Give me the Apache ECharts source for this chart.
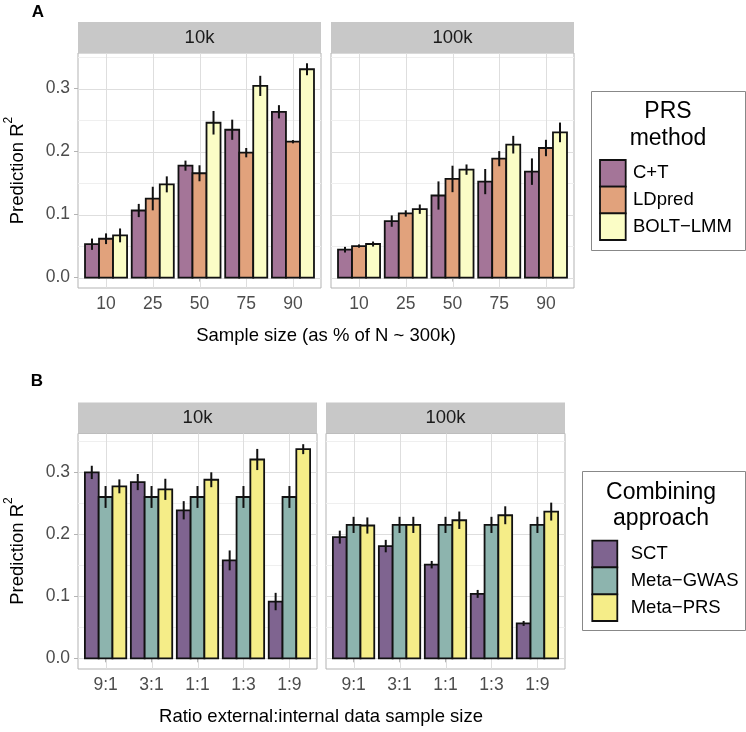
<!DOCTYPE html>
<html><head><meta charset="utf-8">
<script src="https://cdn.jsdelivr.net/npm/echarts@6/dist/echarts.min.js"></script>
<style>html,body{margin:0;padding:0;background:#fff}#c{width:746px;height:732px}</style>
</head><body><div id="c"></div>
<script>
const FONT = '"Liberation Sans", Arial, Helvetica, sans-serif';

// ---------- categories / labels ----------
const sizeCats = ['10', '25', '50', '75', '90'];
const ratioCats = ['9:1', '3:1', '1:1', '1:3', '1:9'];
const facets = ['10k', '100k'];
const methodsA = ['C+T', 'LDpred', 'BOLT−LMM'];
const methodsB = ['SCT', 'Meta−GWAS', 'Meta−PRS'];
const colorsA = ['#a47598', '#e1a27c', '#fbfdc6'];
const colorsB = ['#7f6490', '#8db4ae', '#f5ed88'];
const yMajor = [0, 0.1, 0.2, 0.3];
const yMinor = [0.05, 0.15, 0.25, 0.35];

// ---------- panel A, 10k ----------
const a10k_CT = [0.053, 0.1065, 0.1777, 0.2347, 0.2632];
const a10k_CT_err = [0.009, 0.0105, 0.008, 0.016, 0.0105];
const a10k_LD = [0.0617, 0.1255, 0.1656, 0.1983, 0.2157];
const a10k_LD_err = [0.0085, 0.0187, 0.0127, 0.0074, 0.0026];
const a10k_BOLT = [0.067, 0.148, 0.2458, 0.3043, 0.3307];
const a10k_BOLT_err = [0.011, 0.0127, 0.0187, 0.016, 0.0095];
// ---------- panel A, 100k ----------
const a100k_CT = [0.0443, 0.0897, 0.1303, 0.1524, 0.1682];
const a100k_CT_err = [0.0045, 0.009, 0.0224, 0.02, 0.021];
const a100k_LD = [0.0501, 0.1018, 0.1566, 0.1888, 0.2057];
const a100k_LD_err = [0.0026, 0.005, 0.021, 0.012, 0.013];
const a100k_BOLT = [0.0533, 0.1086, 0.1714, 0.211, 0.2305];
const a100k_BOLT_err = [0.004, 0.0074, 0.0082, 0.014, 0.0156];
// ---------- panel B, 10k ----------
const b10k_SCT = [0.299, 0.2835, 0.2381, 0.1575, 0.0913];
const b10k_SCT_err = [0.0107, 0.013, 0.0147, 0.016, 0.014];
const b10k_GWAS = [0.2595, 0.2595, 0.2595, 0.2595, 0.2595];
const b10k_GWAS_err = [0.0176, 0.0176, 0.0176, 0.0176, 0.0176];
const b10k_PRS = [0.2766, 0.2718, 0.2872, 0.3198, 0.3364];
const b10k_PRS_err = [0.0112, 0.017, 0.012, 0.017, 0.008];
// ---------- panel B, 100k ----------
const b100k_SCT = [0.1949, 0.1805, 0.1506, 0.1036, 0.0561];
const b100k_SCT_err = [0.0104, 0.01, 0.006, 0.0064, 0.004];
const b100k_GWAS = [0.2146, 0.2146, 0.2146, 0.2146, 0.2146];
const b100k_GWAS_err = [0.013, 0.013, 0.013, 0.013, 0.013];
const b100k_PRS = [0.2136, 0.2146, 0.2221, 0.2301, 0.236];
const b100k_PRS_err = [0.013, 0.013, 0.014, 0.0144, 0.0144];

// ---------- layout ----------
const panels = [
  { grid: { left: 78, top: 53, width: 243, height: 235 }, strip: facets[0], cats: sizeCats, colors: colorsA,
    vals: [a10k_CT, a10k_LD, a10k_BOLT], errs: [a10k_CT_err, a10k_LD_err, a10k_BOLT_err], yMin: -0.0165, yMax: 0.3565, showY: true },
  { grid: { left: 331, top: 53, width: 243, height: 235 }, strip: facets[1], cats: sizeCats, colors: colorsA,
    vals: [a100k_CT, a100k_LD, a100k_BOLT], errs: [a100k_CT_err, a100k_LD_err, a100k_BOLT_err], yMin: -0.0165, yMax: 0.3565, showY: false },
  { grid: { left: 78, top: 433.5, width: 239, height: 235.5 }, strip: facets[0], cats: ratioCats, colors: colorsB,
    vals: [b10k_SCT, b10k_GWAS, b10k_PRS], errs: [b10k_SCT_err, b10k_GWAS_err, b10k_PRS_err], yMin: -0.0172, yMax: 0.3616, showY: true },
  { grid: { left: 326, top: 433.5, width: 239, height: 235.5 }, strip: facets[1], cats: ratioCats, colors: colorsB,
    vals: [b100k_SCT, b100k_GWAS, b100k_PRS], errs: [b100k_SCT_err, b100k_GWAS_err, b100k_PRS_err], yMin: -0.0172, yMax: 0.3616, showY: false }
];
const offsets = [-0.3, 0, 0.3];
const halfBar = 0.15;
const stripH = 31;

const grids = [], xAxes = [], yAxes = [], series = [], graphics = [];

panels.forEach((p, gi) => {
  grids.push(Object.assign({ show: true, borderColor: '#b3b3b3', borderWidth: 1, backgroundColor: '#fff', containLabel: false }, p.grid));
  const tickVals = p.cats.map((c, i) => i + 1);
  xAxes.push({
    type: 'value', gridIndex: gi, min: 0.4, max: 5.6,
    axisLine: { show: false }, splitLine: { show: false },
    axisTick: { show: true, customValues: tickVals, length: 4, lineStyle: { color: '#b3b3b3', width: 1 } },
    axisLabel: { show: true, customValues: tickVals, margin: 7, fontSize: 17.5, color: '#4d4d4d', fontFamily: FONT,
      formatter: v => p.cats[Math.round(v) - 1] }
  });
  yAxes.push({
    type: 'value', gridIndex: gi, min: p.yMin, max: p.yMax,
    axisLine: { show: false }, splitLine: { show: false },
    axisTick: { show: p.showY, customValues: yMajor, length: 4, lineStyle: { color: '#b3b3b3', width: 1 } },
    axisLabel: { show: p.showY, customValues: yMajor, margin: 8, fontSize: 17.5, color: '#4d4d4d', fontFamily: FONT,
      formatter: v => v.toFixed(1) }
  });
  // grid lines
  const gl = [];
  yMinor.forEach(v => gl.push([1, v, 1]));
  yMajor.forEach(v => gl.push([1, v, 0]));
  tickVals.forEach(v => gl.push([v, 0, 2]));
  series.push({
    type: 'custom', xAxisIndex: gi, yAxisIndex: gi, z: 1, silent: true, data: gl,
    renderItem: (params, api) => {
      const cs = params.coordSys; const t = api.value(2);
      if (t === 2) {
        const x = Math.round(api.coord([api.value(0), 0])[0]) + 0.5;
        return { type: 'line', shape: { x1: x, y1: cs.y, x2: x, y2: cs.y + cs.height }, style: { stroke: '#dedede', lineWidth: 1 } };
      }
      const y = Math.round(api.coord([1, api.value(1)])[1]) + 0.5;
      if (y < cs.y || y > cs.y + cs.height) return null;
      return { type: 'line', shape: { x1: cs.x, y1: y, x2: cs.x + cs.width, y2: y },
        style: { stroke: t === 0 ? '#dedede' : '#efefef', lineWidth: 1 } };
    }
  });
  // bars
  p.vals.forEach((arr, si) => {
    const off = offsets[si], col = p.colors[si];
    series.push({
      type: 'custom', xAxisIndex: gi, yAxisIndex: gi, z: 2,
      data: arr.map((v, i) => [i + 1, v]),
      renderItem: (params, api) => {
        const xc = api.value(0) + off;
        const p0 = api.coord([xc - halfBar, api.value(1)]);
        const p1 = api.coord([xc + halfBar, 0]);
        return { type: 'rect', shape: { x: p0[0], y: p0[1], width: p1[0] - p0[0], height: p1[1] - p0[1] },
          style: { fill: col, stroke: '#111', lineWidth: 1.8 } };
      }
    });
  });
  // error bars
  p.vals.forEach((arr, si) => {
    const off = offsets[si], errs = p.errs[si];
    series.push({
      type: 'custom', xAxisIndex: gi, yAxisIndex: gi, z: 3,
      data: arr.map((v, i) => [i + 1, v - errs[i], v + errs[i]]),
      renderItem: (params, api) => {
        const xc = api.value(0) + off;
        const lo = api.coord([xc, api.value(1)]);
        const hi = api.coord([xc, api.value(2)]);
        return { type: 'line', shape: { x1: lo[0], y1: lo[1], x2: hi[0], y2: hi[1] }, style: { stroke: '#111', lineWidth: 2 } };
      }
    });
  });
  // strip
  graphics.push({ type: 'rect', shape: { x: p.grid.left, y: p.grid.top - stripH, width: p.grid.width, height: stripH },
    style: { fill: '#c8c8c8' } });
  graphics.push({ type: 'text', x: p.grid.left + p.grid.width / 2, y: p.grid.top - stripH / 2,
    style: { text: p.strip, fontSize: 18.5, fill: '#1a1a1a', fontFamily: FONT, align: 'center', verticalAlign: 'middle' } });
});

// axis titles
function ytitle(x, y) {
  graphics.push({ type: 'text', x: x, y: y, rotation: Math.PI / 2,
    style: { text: '{a|Prediction R}{s|2}', fontFamily: FONT, align: 'center', verticalAlign: 'middle',
      rich: { a: { fontSize: 18.5, fill: '#000', fontFamily: FONT, lineHeight: 24, verticalAlign: 'bottom' },
              s: { fontSize: 12, fill: '#000', fontFamily: FONT, lineHeight: 12, verticalAlign: 'top' } } } });
}
ytitle(15, 170.5);
ytitle(15, 551);
graphics.push({ type: 'text', x: 326, y: 336,
  style: { text: 'Sample size (as % of N ~ 300k)', fontSize: 18.5, fill: '#000', fontFamily: FONT, align: 'center', verticalAlign: 'middle' } });
graphics.push({ type: 'text', x: 321, y: 717,
  style: { text: 'Ratio external:internal data sample size', fontSize: 18.5, fill: '#000', fontFamily: FONT, align: 'center', verticalAlign: 'middle' } });
// panel letters
graphics.push({ type: 'text', x: 38, y: 12.5,
  style: { text: 'A', fontSize: 17, fontWeight: 'bold', fill: '#000', fontFamily: FONT, align: 'center', verticalAlign: 'middle' } });
graphics.push({ type: 'text', x: 37, y: 381,
  style: { text: 'B', fontSize: 17, fontWeight: 'bold', fill: '#000', fontFamily: FONT, align: 'center', verticalAlign: 'middle' } });

// legends
function legend(box, titles, titleX, titleYs, keyX, keyW, keyYs, labelX, names, colors) {
  graphics.push({ type: 'rect', shape: box, style: { fill: '#fff', stroke: '#888', lineWidth: 1 } });
  titles.forEach((t, i) => graphics.push({ type: 'text', x: titleX, y: titleYs[i],
    style: { text: t, fontSize: 23, fill: '#000', fontFamily: FONT, align: 'center', verticalAlign: 'middle' } }));
  names.forEach((n, i) => {
    const h = keyYs[i + 1] - keyYs[i];
    graphics.push({ type: 'rect', shape: { x: keyX, y: keyYs[i], width: keyW, height: h },
      style: { fill: colors[i], stroke: '#111', lineWidth: 1.8 } });
    graphics.push({ type: 'text', x: labelX, y: keyYs[i] + h / 2,
      style: { text: n, fontSize: 18.5, fill: '#000', fontFamily: FONT, align: 'left', verticalAlign: 'middle' } });
  });
}
legend({ x: 591.5, y: 91.5, width: 154, height: 159 }, ['PRS', 'method'], 668, [111.7, 138.5],
  600, 25.7, [160, 186.7, 213.3, 240], 633, methodsA, colorsA);
legend({ x: 582.5, y: 471.5, width: 163, height: 159 }, ['Combining', 'approach'], 661, [493, 519],
  592.3, 25, [540.7, 567.3, 594.3, 621], 630.7, methodsB, colorsB);

const chart = echarts.init(document.getElementById('c'), null, { renderer: 'canvas' });
chart.setOption({
  animation: false,
  backgroundColor: '#fff',
  grid: grids, xAxis: xAxes, yAxis: yAxes, series: series, graphic: graphics
});
</script></body></html>
